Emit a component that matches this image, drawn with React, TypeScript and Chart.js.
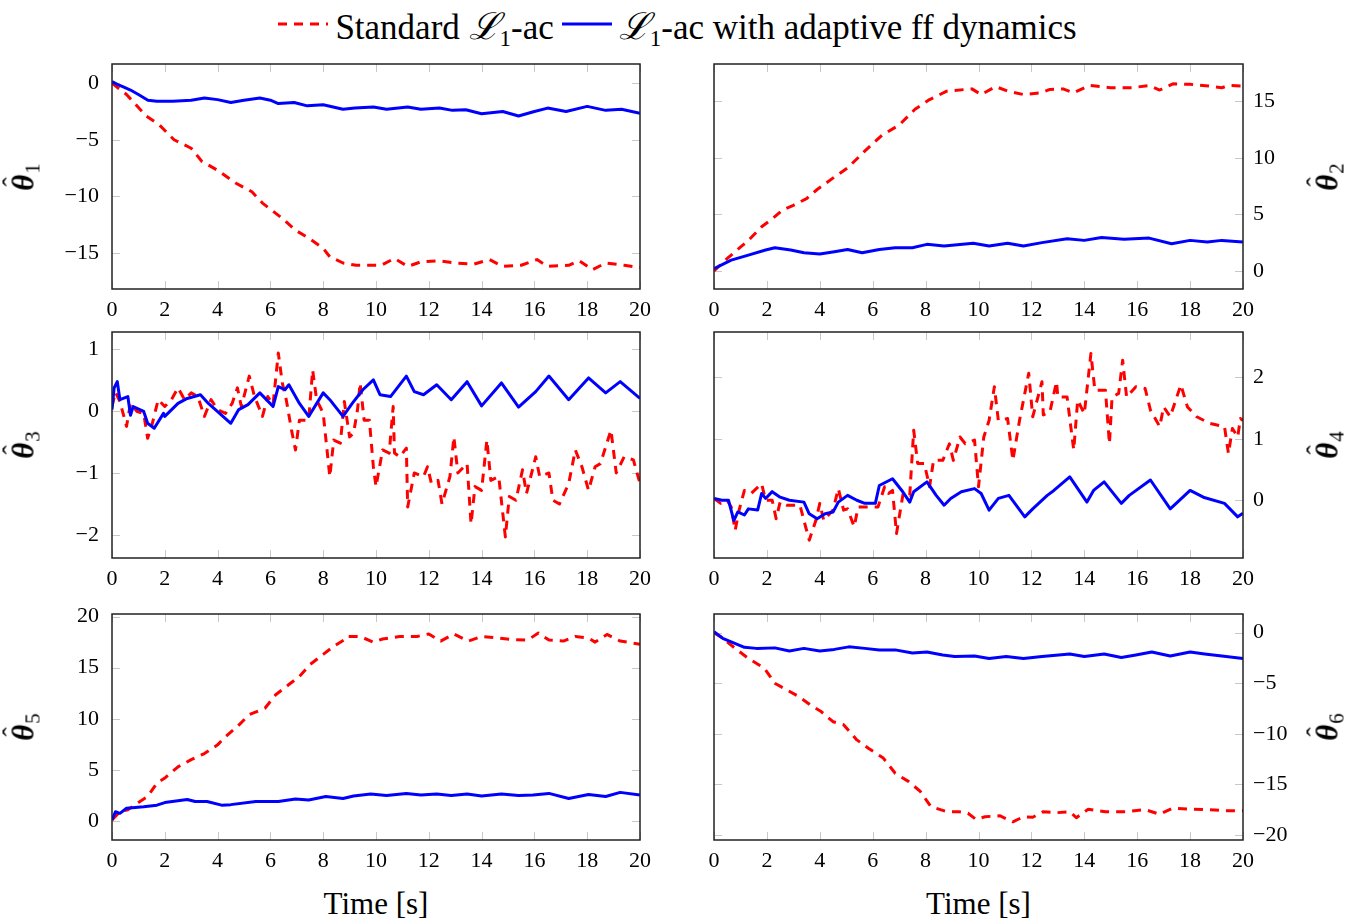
import React, { useEffect, useRef } from "react";
import { Chart, registerables } from "chart.js";
Chart.register(...registerables);

type Pt = [number, number];

// ---------- text ----------
const LEGEND_STD = "Standard ";
const LEGEND_ADA_TAIL = "-ac with adaptive ff dynamics";
const X_TITLE = "Time [s]";

// ---------- ticks ----------
const X_TICKS = [0, 2, 4, 6, 8, 10, 12, 14, 16, 18, 20];
const Y1_TICKS = [-15, -10, -5, 0];
const Y2_TICKS = [0, 5, 10, 15];
const Y3_TICKS = [-2, -1, 0, 1];
const Y4_TICKS = [0, 1, 2];
const Y5_TICKS = [0, 5, 10, 15, 20];
const Y6_TICKS = [-20, -15, -10, -5, 0];

// ---------- series: [time, value] ----------
const P1_ADA: Pt[] = [[0,0.15],[0.2,-0.1],[0.45,-0.35],[0.7,-0.6],[1.0,-1.0],[1.36,-1.5],[1.7,-1.6],[2.3,-1.6],[3.0,-1.5],[3.5,-1.3],[4.0,-1.45],[4.5,-1.7],[5.0,-1.5],[5.6,-1.3],[6.0,-1.5],[6.3,-1.8],[6.9,-1.7],[7.4,-2.0],[8.0,-1.9],[8.75,-2.3],[9.2,-2.2],[9.9,-2.1],[10.4,-2.3],[11.2,-2.1],[11.7,-2.3],[12.4,-2.2],[12.9,-2.4],[13.4,-2.35],[14.0,-2.7],[14.8,-2.5],[15.4,-2.9],[16.0,-2.5],[16.5,-2.2],[17.2,-2.5],[18.0,-2.05],[18.7,-2.4],[19.3,-2.3],[20,-2.65]];
const P1_STD: Pt[] = [[0,0],[0.55,-1.0],[1.3,-2.9],[1.8,-3.7],[2.35,-5.0],[3.0,-5.75],[3.4,-6.9],[4.0,-7.7],[4.7,-8.85],[5.3,-9.6],[5.7,-10.6],[6.45,-11.95],[6.95,-13.0],[7.45,-13.7],[8.0,-14.6],[8.25,-15.35],[8.75,-15.9],[9.25,-16.1],[10.2,-16.1],[10.7,-15.5],[11.2,-16.2],[11.7,-15.8],[12.35,-15.7],[13.0,-15.9],[13.7,-16.0],[14.3,-15.6],[14.8,-16.2],[15.5,-16.1],[16.1,-15.6],[16.5,-16.2],[17.3,-16.1],[17.7,-15.7],[18.2,-16.5],[18.7,-15.9],[19.4,-16.1],[20,-16.3]];

const P2_ADA: Pt[] = [[0,0.2],[0.65,0.95],[1.3,1.4],[1.95,1.85],[2.3,2.05],[2.9,1.85],[3.4,1.6],[4.0,1.5],[4.55,1.7],[5.05,1.9],[5.6,1.6],[6.25,1.9],[6.85,2.05],[7.5,2.05],[8.05,2.35],[8.7,2.2],[9.8,2.45],[10.4,2.2],[11.1,2.45],[11.7,2.2],[12.4,2.5],[13.35,2.85],[14.0,2.7],[14.65,2.95],[15.5,2.8],[16.45,2.9],[17.3,2.4],[18.0,2.7],[18.65,2.55],[19.2,2.7],[20,2.55]];
const P2_STD: Pt[] = [[0,0],[0.5,1.1],[1.3,2.7],[1.8,3.9],[2.2,4.6],[2.6,5.4],[3.0,5.8],[3.5,6.4],[3.9,7.2],[4.55,8.3],[5.05,9.1],[5.7,10.6],[6.35,12.0],[7.0,12.9],[7.6,14.3],[8.15,15.15],[8.8,15.9],[9.75,16.1],[10.1,15.6],[10.65,16.3],[11.1,15.9],[11.7,15.6],[12.35,15.75],[12.7,16.05],[13.2,16.1],[13.6,15.75],[14.2,16.4],[15.0,16.2],[15.8,16.2],[16.45,16.4],[16.85,16.0],[17.35,16.55],[18.0,16.5],[18.7,16.35],[19.2,16.2],[19.45,16.4],[20,16.35]];

const P3_ADA: Pt[] = [[0,0.02],[0.08,0.37],[0.2,0.47],[0.3,0.18],[0.6,0.23],[0.7,-0.07],[0.8,0.07],[1.2,-0.01],[1.35,-0.2],[1.6,-0.28],[1.95,-0.04],[2.0,-0.09],[2.5,0.12],[2.85,0.2],[3.35,0.26],[3.65,0.12],[4.5,-0.2],[4.8,0.02],[5.15,0.1],[5.6,0.29],[6.1,0.07],[6.3,0.39],[6.55,0.34],[6.7,0.42],[7.1,0.12],[7.45,-0.09],[8.0,0.29],[8.25,0.18],[8.75,-0.09],[9.1,0.12],[9.5,0.34],[9.9,0.5],[10.15,0.26],[10.55,0.23],[11.15,0.56],[11.45,0.31],[11.8,0.26],[12.3,0.42],[12.85,0.18],[13.45,0.47],[14.0,0.08],[14.75,0.45],[15.4,0.06],[16.05,0.31],[16.55,0.56],[17.3,0.18],[18.05,0.53],[18.7,0.29],[19.25,0.47],[20,0.2]];
const P3_STD: Pt[] = [[0,0.07],[0.13,0.3],[0.3,0.15],[0.55,-0.25],[0.7,0.12],[0.95,-0.01],[1.2,-0.04],[1.35,-0.44],[1.5,-0.25],[1.75,0.18],[2.0,0.07],[2.25,0.18],[2.5,0.37],[2.75,0.18],[3.0,0.29],[3.25,0.23],[3.5,-0.09],[3.75,0.18],[4.0,0.02],[4.3,-0.04],[4.55,0.12],[4.75,0.37],[4.9,0.07],[5.2,0.56],[5.4,0.23],[5.7,-0.09],[5.9,0.23],[6.1,0.1],[6.3,0.93],[6.45,0.45],[6.6,0.18],[6.8,-0.31],[6.95,-0.63],[7.1,-0.15],[7.45,-0.15],[7.6,0.66],[7.75,0.18],[8.0,-0.04],[8.25,-1.06],[8.4,-0.47],[8.65,-0.52],[8.8,0.15],[9.0,-0.42],[9.15,-0.36],[9.3,0.02],[9.4,0.45],[9.55,-0.15],[9.75,-0.15],[9.9,-0.9],[10.0,-1.22],[10.25,-0.63],[10.5,-0.68],[10.65,0.07],[10.7,-0.68],[10.9,-0.74],[11.15,-0.6],[11.2,-1.55],[11.45,-1.0],[11.8,-1.06],[11.95,-0.9],[12.1,-1.17],[12.35,-1.12],[12.5,-1.5],[12.8,-1.06],[12.95,-0.42],[13.1,-1.0],[13.45,-0.85],[13.6,-1.82],[13.75,-1.22],[14.0,-1.28],[14.2,-0.47],[14.35,-1.12],[14.65,-1.06],[14.9,-2.03],[15.05,-1.38],[15.3,-1.44],[15.55,-0.95],[15.7,-1.33],[16.05,-0.74],[16.2,-1.06],[16.55,-1.0],[16.7,-1.44],[16.95,-1.5],[17.3,-1.17],[17.55,-0.63],[17.8,-0.9],[18.05,-1.28],[18.3,-0.9],[18.5,-0.85],[18.7,-0.58],[18.9,-0.31],[19.1,-1.0],[19.4,-0.74],[19.75,-0.79],[20,-1.17]];

const P4_ADA: Pt[] = [[0,0.03],[0.3,0],[0.55,0],[0.75,-0.33],[0.9,-0.19],[1.15,-0.24],[1.3,-0.14],[1.65,-0.16],[1.8,0.11],[1.95,0.03],[2.2,0.14],[2.5,0.05],[2.85,0],[3.4,-0.03],[3.6,-0.22],[3.9,-0.3],[4.2,-0.22],[4.5,-0.19],[4.7,-0.03],[5.05,0.08],[5.4,0],[5.7,-0.05],[6.1,-0.05],[6.25,0.24],[6.75,0.35],[7.1,0.16],[7.4,-0.03],[7.55,0.14],[8.05,0.3],[8.4,0.08],[8.7,-0.08],[8.95,0.03],[9.35,0.14],[9.85,0.19],[10.1,0.11],[10.4,-0.16],[10.75,0.03],[11.15,0.08],[11.75,-0.27],[12.05,-0.14],[12.6,0.08],[12.85,0.16],[13.45,0.38],[14.1,-0.03],[14.35,0.16],[14.75,0.3],[15.4,-0.05],[15.7,0.08],[16.5,0.33],[17.25,-0.14],[18.0,0.16],[18.5,0.05],[19.3,-0.05],[19.8,-0.27],[20,-0.21]];
const P4_STD: Pt[] = [[0,0.03],[0.25,-0.05],[0.5,0],[0.65,-0.11],[0.8,-0.49],[0.95,-0.16],[1.15,0.16],[1.4,0.11],[1.8,0.27],[1.95,0],[2.2,0],[2.35,-0.3],[2.5,-0.03],[2.75,-0.08],[3.25,-0.08],[3.4,-0.33],[3.6,-0.65],[3.85,-0.33],[4.0,-0.05],[4.15,-0.33],[4.5,-0.16],[4.7,0.19],[4.9,-0.16],[5.05,-0.14],[5.3,-0.43],[5.45,-0.11],[5.85,-0.11],[6.2,-0.11],[6.45,0.22],[6.6,0.11],[6.75,0.16],[6.9,-0.54],[7.15,0.11],[7.4,0.08],[7.55,1.14],[7.7,0.6],[7.95,0.6],[8.15,0.22],[8.3,0.65],[8.65,0.65],[8.9,0.92],[9.05,0.65],[9.3,1.03],[9.5,0.92],[9.85,0.98],[10.0,0.22],[10.2,1.03],[10.4,1.3],[10.6,1.85],[10.75,1.3],[11.1,1.33],[11.3,0.65],[11.55,1.3],[11.9,2.07],[12.05,1.36],[12.4,1.93],[12.45,1.39],[12.7,1.44],[12.95,1.93],[13.0,1.68],[13.35,1.68],[13.6,0.82],[13.75,1.63],[14.0,1.41],[14.25,2.39],[14.4,1.79],[14.8,1.79],[14.95,0.92],[15.05,1.68],[15.3,1.74],[15.45,2.28],[15.6,1.68],[15.95,1.85],[16.3,1.82],[16.5,1.47],[16.85,1.2],[17.0,1.52],[17.25,1.36],[17.65,1.88],[17.9,1.52],[18.25,1.36],[18.75,1.25],[19.3,1.2],[19.45,0.76],[19.6,1.17],[19.8,1.03],[19.9,1.33],[20,1.3]];

const P5_ADA: Pt[] = [[0,0.1],[0.13,0.9],[0.3,0.75],[0.55,1.25],[1.2,1.4],[1.7,1.55],[2.0,1.8],[2.85,2.1],[3.15,1.9],[3.6,1.9],[4.15,1.55],[4.5,1.6],[5.45,1.9],[6.3,1.9],[6.95,2.15],[7.45,2.05],[8.1,2.4],[8.75,2.2],[9.15,2.45],[9.8,2.65],[10.4,2.5],[11.15,2.7],[11.7,2.55],[12.3,2.65],[12.85,2.5],[13.45,2.65],[14.0,2.45],[14.75,2.65],[15.4,2.5],[15.95,2.55],[16.55,2.7],[17.3,2.2],[18.05,2.6],[18.7,2.4],[19.25,2.8],[20,2.55]];
const P5_STD: Pt[] = [[0,0.1],[0.3,0.9],[0.6,1.1],[0.85,1.55],[1.35,2.4],[1.7,3.7],[2.0,4.2],[2.5,5.3],[3.0,6.0],[3.5,6.6],[4.0,7.45],[4.3,8.25],[4.75,9.25],[5.2,10.4],[5.8,11.05],[6.2,12.35],[6.7,13.35],[7.1,14.15],[7.5,15.3],[8.0,16.3],[8.4,17.1],[8.85,17.8],[8.9,18.05],[9.4,18.05],[9.9,17.5],[10.25,17.8],[10.9,18.05],[11.55,18.05],[12.0,18.3],[12.45,17.6],[12.95,18.3],[13.5,17.6],[14.0,18.05],[14.6,17.9],[15.15,17.75],[15.75,17.7],[16.15,18.4],[16.55,17.7],[17.1,17.6],[17.55,18.05],[18.05,17.9],[18.3,17.5],[18.75,18.25],[19.25,17.6],[20,17.3]];

const P6_ADA: Pt[] = [[0,0.1],[0.33,-0.55],[0.65,-0.9],[1.15,-1.45],[1.6,-1.55],[2.3,-1.5],[2.85,-1.8],[3.4,-1.55],[4.0,-1.8],[4.55,-1.65],[5.1,-1.4],[5.7,-1.55],[6.25,-1.7],[6.85,-1.7],[7.5,-2.0],[8.05,-1.9],[8.65,-2.2],[9.1,-2.35],[9.85,-2.3],[10.4,-2.55],[11.05,-2.35],[11.7,-2.55],[12.4,-2.35],[13.45,-2.1],[14.0,-2.35],[14.75,-2.1],[15.4,-2.45],[15.95,-2.2],[16.55,-1.9],[17.25,-2.3],[18.0,-1.9],[18.55,-2.1],[19.2,-2.3],[20,-2.55]];
const P6_STD: Pt[] = [[0,0],[0.33,-0.55],[0.8,-1.55],[1.3,-2.55],[1.9,-3.5],[2.3,-5.0],[2.75,-5.65],[3.2,-6.3],[3.65,-7.15],[4.05,-7.8],[4.5,-8.8],[4.9,-9.1],[5.4,-10.6],[5.85,-11.45],[6.4,-12.4],[6.85,-13.9],[7.35,-14.7],[7.8,-15.7],[8.2,-17.2],[8.8,-17.7],[9.25,-17.7],[9.6,-17.85],[9.9,-18.45],[10.25,-18.2],[10.8,-18.1],[11.3,-18.7],[11.7,-18.2],[12.05,-18.25],[12.45,-17.7],[12.95,-17.8],[13.45,-17.7],[13.7,-18.3],[14.15,-17.45],[14.8,-17.7],[15.6,-17.7],[16.3,-17.5],[16.85,-17.95],[17.35,-17.35],[18.05,-17.45],[18.75,-17.5],[19.35,-17.6],[20,-17.6]];

// ---------- styling / layout ----------
const RED = "#ff0000";
const BLUE = "#0000ff";
const SERIF = '"Liberation Serif", "DejaVu Serif", "Times New Roman", serif';
const DASH = [9, 7];

interface PanelCfg {
  idx: string;
  col: number;
  row: number;
  yMin: number;
  yMax: number;
  yTicks: number[];
  std: Pt[];
  ada: Pt[];
}

const PANELS: PanelCfg[] = [
  { idx: "1", col: 0, row: 0, yMin: -18.2, yMax: 1.7, yTicks: Y1_TICKS, std: P1_STD, ada: P1_ADA },
  { idx: "2", col: 1, row: 0, yMin: -1.6, yMax: 18.3, yTicks: Y2_TICKS, std: P2_STD, ada: P2_ADA },
  { idx: "3", col: 0, row: 1, yMin: -2.37, yMax: 1.27, yTicks: Y3_TICKS, std: P3_STD, ada: P3_ADA },
  { idx: "4", col: 1, row: 1, yMin: -0.94, yMax: 2.74, yTicks: Y4_TICKS, std: P4_STD, ada: P4_ADA },
  { idx: "5", col: 0, row: 2, yMin: -1.86, yMax: 20.25, yTicks: Y5_TICKS, std: P5_STD, ada: P5_ADA },
  { idx: "6", col: 1, row: 2, yMin: -20.5, yMax: 1.85, yTicks: Y6_TICKS, std: P6_STD, ada: P6_ADA },
];

// chart-area geometry
const COL_L = [112, 714];
const COL_R = [640, 1243];
const ROW_T = [64, 332, 614];
const ROW_B = [289, 558, 840];
const PAD_TOP = 30;
const X_AXIS_H = 36;
const CANVAS_X = [0, 680];
const CANVAS_W = [680, 675];

const fmt = (v: number) => (v < 0 ? "\u2212" + Math.abs(v) : String(v));

const framePlugin = {
  id: "frame",
  beforeDatasetsDraw(chart: any) {
    const { ctx, chartArea: a, scales } = chart;
    const L = 8;
    ctx.save();
    ctx.strokeStyle = "#c8c8c8";
    ctx.lineWidth = 1;
    ctx.beginPath();
    scales.x.ticks.forEach((t: any) => {
      const px = Math.round(scales.x.getPixelForValue(t.value)) + 0.5;
      ctx.moveTo(px, a.top);
      ctx.lineTo(px, a.top + L);
      ctx.moveTo(px, a.bottom);
      ctx.lineTo(px, a.bottom - L);
    });
    scales.y.ticks.forEach((t: any) => {
      const py = Math.round(scales.y.getPixelForValue(t.value)) + 0.5;
      ctx.moveTo(a.left, py);
      ctx.lineTo(a.left + L, py);
      ctx.moveTo(a.right, py);
      ctx.lineTo(a.right - L, py);
    });
    ctx.stroke();
    ctx.restore();
  },
  afterDatasetsDraw(chart: any) {
    const { ctx, chartArea: a } = chart;
    ctx.save();
    ctx.strokeStyle = "#222";
    ctx.lineWidth = 1.5;
    ctx.strokeRect(a.left, a.top, a.right - a.left, a.bottom - a.top);
    ctx.restore();
  },
};

function Panel({ cfg }: { cfg: PanelCfg }) {
  const ref = useRef<HTMLCanvasElement>(null);
  const col = cfg.col;
  const row = cfg.row;
  const cx = CANVAS_X[col];
  const cw = CANVAS_W[col];
  const ctop = ROW_T[row] - PAD_TOP;
  const ch = PAD_TOP + (ROW_B[row] - ROW_T[row]) + X_AXIS_H;
  const padLeft = col === 0 ? 0 : COL_L[1] - cx;
  const padRight = col === 0 ? cx + cw - COL_R[0] : 0;
  const yw = col === 0 ? COL_L[0] - cx : cx + cw - COL_R[1];

  useEffect(() => {
    const tickFont = { family: SERIF, size: 22 };
    const chart = new Chart(ref.current as HTMLCanvasElement, {
      type: "line",
      data: {
        datasets: [
          {
            data: cfg.ada.map(([x, y]) => ({ x, y })),
            borderColor: BLUE,
            borderWidth: 3,
            pointRadius: 0,
            tension: 0,
            fill: false,
            order: 0,
            borderJoinStyle: "round",
          },
          {
            data: cfg.std.map(([x, y]) => ({ x, y })),
            borderColor: RED,
            borderWidth: 3,
            borderDash: DASH,
            pointRadius: 0,
            tension: 0,
            fill: false,
            order: 1,
            borderJoinStyle: "round",
          },
        ],
      },
      options: {
        animation: false,
        responsive: false,
        events: [],
        layout: { padding: { top: PAD_TOP, left: padLeft, right: padRight, bottom: 0 } },
        plugins: { legend: { display: false }, tooltip: { enabled: false } },
        scales: {
          x: {
            type: "linear",
            min: 0,
            max: 20,
            afterBuildTicks: (s: any) => {
              s.ticks = X_TICKS.map((v) => ({ value: v }));
            },
            afterFit: (s: any) => {
              s.height = X_AXIS_H;
            },
            grid: { display: false, drawTicks: false },
            border: { display: false },
            ticks: { font: tickFont, color: "#000", padding: 8, maxRotation: 0, autoSkip: false, callback: (v: any) => fmt(Number(v)) },
          },
          y: {
            type: "linear",
            position: col === 0 ? "left" : "right",
            min: cfg.yMin,
            max: cfg.yMax,
            afterBuildTicks: (s: any) => {
              s.ticks = cfg.yTicks.map((v) => ({ value: v }));
            },
            afterFit: (s: any) => {
              s.width = yw;
            },
            grid: { display: false, drawTicks: false },
            border: { display: false },
            ticks: { font: tickFont, color: "#000", padding: col === 0 ? 13 : 10, callback: (v: any) => fmt(Number(v)) },
          },
        },
      } as any,
      plugins: [framePlugin],
    });
    return () => chart.destroy();
  }, []);

  return (
    <canvas
      ref={ref}
      width={cw}
      height={ch}
      style={{ position: "absolute", left: cx, top: ctop, width: cw, height: ch }}
    />
  );
}

function YTitle({ idx, x, y }: { idx: string; x: number; y: number }) {
  return (
    <div
      style={{
        position: "absolute",
        left: x,
        top: y,
        transform: "translate(-50%, -50%) rotate(-90deg)",
        fontFamily: SERIF,
        fontSize: 31,
        whiteSpace: "nowrap",
        color: "#000",
        lineHeight: 1,
      }}
    >
      <span style={{ position: "relative", display: "inline-block", fontStyle: "italic", fontWeight: "bold" }}>
        {"\u03b8"}
        <span
          style={{
            position: "absolute",
            left: "50%",
            top: -9,
            transform: "translateX(-42%)",
            fontStyle: "normal",
            fontWeight: "normal",
            fontSize: 28,
          }}
        >
          {"\u02c6"}
        </span>
      </span>
      <span style={{ fontSize: 21, position: "relative", top: 6, marginLeft: 1 }}>{idx}</span>
    </div>
  );
}

function LegendLine({ color, dash }: { color: string; dash?: string }) {
  return (
    <svg width={50} height={12} style={{ display: "block" }}>
      <line x1={0} y1={6} x2={50} y2={6} stroke={color} strokeWidth={3} strokeDasharray={dash} />
    </svg>
  );
}

function L1() {
  return (
    <span>
      <span style={{ fontFamily: '"DejaVu Serif", serif', fontStyle: "italic", fontSize: 37 }}>{"\u2112"}</span>
      <span style={{ fontSize: 23, position: "relative", top: 7 }}>1</span>
    </span>
  );
}

export default function App() {
  return (
    <div
      style={{
        position: "fixed",
        left: 0,
        top: 0,
        width: 1355,
        height: 919,
        background: "#fff",
        overflow: "hidden",
      }}
    >
      <div
        style={{
          position: "absolute",
          left: 0,
          top: 3,
          width: 1355,
          height: 42,
          display: "flex",
          alignItems: "center",
          justifyContent: "center",
          fontFamily: SERIF,
          fontSize: 35,
          color: "#000",
          whiteSpace: "nowrap",
        }}
      >
        <LegendLine color={RED} dash={DASH.join(" ")} />
        <span style={{ marginLeft: 7 }}>
          {LEGEND_STD}
          <L1 />
          -ac
        </span>
        <span style={{ marginLeft: 8 }}>
          <LegendLine color={BLUE} />
        </span>
        <span style={{ marginLeft: 7 }}>
          <L1 />
          {LEGEND_ADA_TAIL}
        </span>
      </div>

      {PANELS.map((p) => (
        <Panel key={p.idx} cfg={p} />
      ))}

      {PANELS.map((p) => (
        <YTitle
          key={"t" + p.idx}
          idx={p.idx}
          x={p.col === 0 ? 23 : 1327}
          y={(ROW_T[p.row] + ROW_B[p.row]) / 2}
        />
      ))}

      {[0, 1].map((c) => (
        <div
          key={"xt" + c}
          style={{
            position: "absolute",
            left: (COL_L[c] + COL_R[c]) / 2,
            top: 903,
            transform: "translate(-50%, -50%)",
            fontFamily: SERIF,
            fontSize: 31,
            color: "#000",
            whiteSpace: "nowrap",
            lineHeight: 1,
          }}
        >
          {X_TITLE}
        </div>
      ))}
    </div>
  );
}
